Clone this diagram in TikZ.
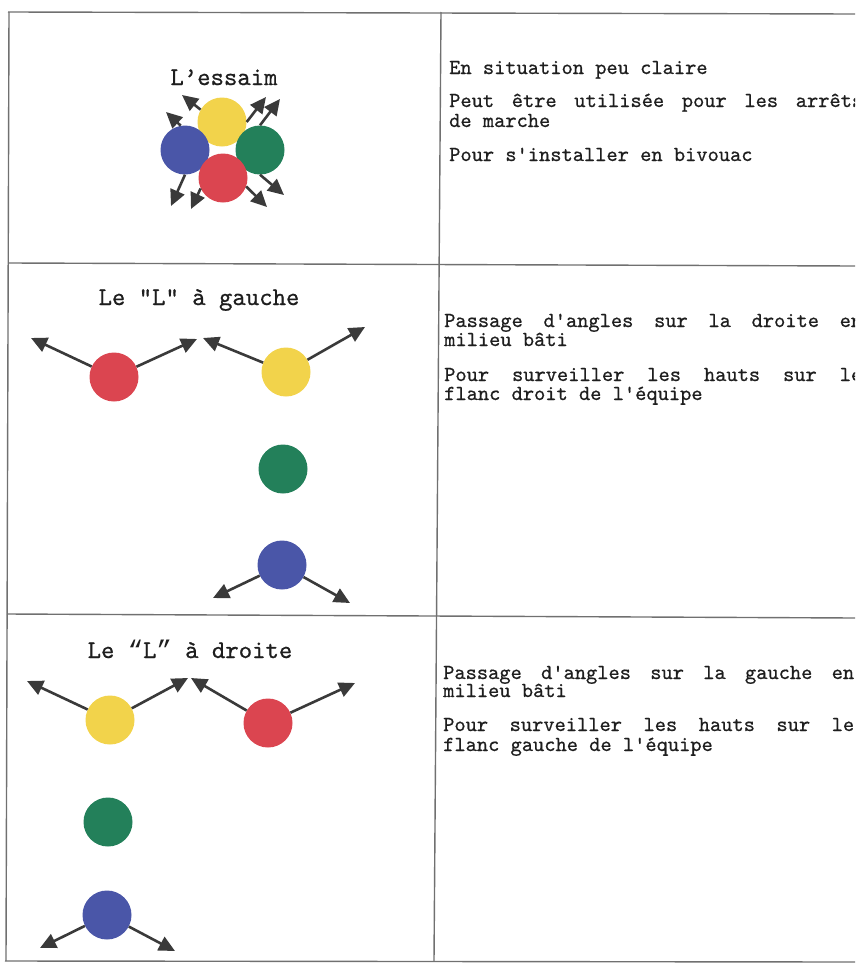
\documentclass[tikz,border=0pt]{standalone}
\usepackage{fontspec}
\newfontfamily\mono{lmmono10-regular.otf}[FakeBold=0.7]
\newfontfamily\quotemono{Liberation Mono}
\usetikzlibrary{arrows.meta}

\definecolor{ruleg}{HTML}{707070}
\definecolor{inkc}{HTML}{1E1E1E}
\definecolor{arrowc}{HTML}{3A3A3A}
\definecolor{cyel}{HTML}{F2D34B}
\definecolor{cblu}{HTML}{4A56A8}
\definecolor{cgrn}{HTML}{23805A}
\definecolor{cred}{HTML}{DB4550}

\tikzset{
  rule/.style={draw=ruleg, line width=1.4pt},
  disc/.style={circle, minimum size=49pt, inner sep=0pt, draw=none},
  arr/.style={draw=arrowc, line width=2.6pt, -{Triangle[length=16pt,width=15pt]}},
  heading/.style={anchor=base, inner sep=0pt, text=inkc,
    font=\mono\fontsize{25.5}{28}\selectfont},
  bodyline/.style={anchor=base west, inner sep=0pt, text=inkc,
    font=\mono\fontsize{21.4}{23}\selectfont},
}

\begin{document}
\begin{tikzpicture}[x=1pt, y=-1pt]
\useasboundingbox (0,0) rectangle (855,964);
\clip (0,0) rectangle (855,964);

% table rules
\draw[rule] (8,12) -- (855,14);
\draw[rule] (9,263) -- (855,266);
\draw[rule] (7,614) -- (855,618);
\draw[rule] (5,961) -- (855,962);
\draw[rule] (9,12) -- (6,961);
\draw[rule] (441,12) -- (434,961);

% ---------- row 1 : L'essaim ----------
\node[heading] (h1) at (224,85) {L’essaim};
\node[disc, fill=cyel] (yel1) at (222,122) {};
\node[disc, fill=cblu] (blu1) at (185,150) {};
\node[disc, fill=cgrn] (grn1) at (260,150) {};
\node[disc, fill=cred] (red1) at (223,178) {};
\coordinate (s1) at (182,95);
\coordinate (s2) at (166,112);
\coordinate (s3) at (266,97);
\coordinate (s4) at (280,99);
\coordinate (s5) at (171,206);
\coordinate (s6) at (191,209);
\coordinate (s7) at (284,195);
\coordinate (s8) at (267,207);
\draw[arr] (yel1.150) -- (s1);
\draw[arr] (blu1.100) -- (s2);
\draw[arr] (yel1.east) -- (s3);
\draw[arr] (grn1.north) -- (s4);
\draw[arr] (blu1.south) -- (s5);
\draw[arr] (red1.205) -- (s6);
\draw[arr] (grn1.south) -- (s7);
\draw[arr] (red1.-20) -- (s8);

\node[bodyline] (r1a) at (449,74) {En situation peu claire};
\node[bodyline] (r1b) at (449,107) {\hbox to 414pt{Peut\hfill être\hfill utilisée\hfill pour\hfill les\hfill arrêts}};
\node[bodyline] (r1c) at (449,127) {de marche};
\node[bodyline] (r1d) at (449,161) {Pour s'installer en bivouac};

% ---------- row 2 : L on the left ----------
\node[heading] (h2) at (199,305) {Le "L" à gauche};
\node[disc, fill=cred] (red2) at (114,377) {};
\node[disc, fill=cyel] (yel2) at (286,372) {};
\node[disc, fill=cgrn] (grn2) at (283,469) {};
\node[disc, fill=cblu] (blu2) at (282,565) {};
\coordinate (g1) at (31,338);
\coordinate (g2) at (197,339);
\coordinate (g3) at (203,338);
\coordinate (g4) at (365,327);
\coordinate (g5) at (213,598);
\coordinate (g6) at (350,603);
\draw[arr] (red2) -- (g1);
\draw[arr] (red2) -- (g2);
\draw[arr] (yel2) -- (g3);
\draw[arr] (yel2) -- (g4);
\draw[arr] (blu2) -- (g5);
\draw[arr] (blu2) -- (g6);

\node[bodyline] (r2a) at (444,327) {\hbox to 418pt{Passage\hfill d'angles\hfill sur\hfill la\hfill droite\hfill en}};
\node[bodyline] (r2b) at (444,346) {milieu bâti};
\node[bodyline] (r2c) at (444,381) {\hbox to 418pt{Pour\hfill surveiller\hfill les\hfill hauts\hfill sur\hfill le}};
\node[bodyline] (r2d) at (444,400) {flanc droit de l'équipe};

% ---------- row 3 : L on the right ----------
\node[heading] (h3) at (190,658) {Le {\quotemono“}L{\quotemono”} à droite};
\node[disc, fill=cyel] (yel3) at (110,720) {};
\node[disc, fill=cred] (red3) at (268,723) {};
\node[disc, fill=cgrn] (grn3) at (108,822) {};
\node[disc, fill=cblu] (blu3) at (107,915) {};
\coordinate (d1) at (27,681);
\coordinate (d2) at (188,678);
\coordinate (d3) at (191,678);
\coordinate (d4) at (355,683);
\coordinate (d5) at (40,948);
\coordinate (d6) at (175,951);
\draw[arr] (yel3) -- (d1);
\draw[arr] (yel3) -- (d2);
\draw[arr] (red3) -- (d3);
\draw[arr] (red3) -- (d4);
\draw[arr] (blu3) -- (d5);
\draw[arr] (blu3) -- (d6);

\node[bodyline] (r3a) at (443,679) {\hbox to 411pt{Passage\hfill d'angles\hfill sur\hfill la\hfill gauche\hfill en}};
\node[bodyline] (r3b) at (443,697) {milieu bâti};
\node[bodyline] (r3c) at (443,731) {\hbox to 411pt{Pour\hfill surveiller\hfill les\hfill hauts\hfill sur\hfill le}};
\node[bodyline] (r3d) at (443,751) {flanc gauche de l'équipe};
\end{tikzpicture}
\end{document}
